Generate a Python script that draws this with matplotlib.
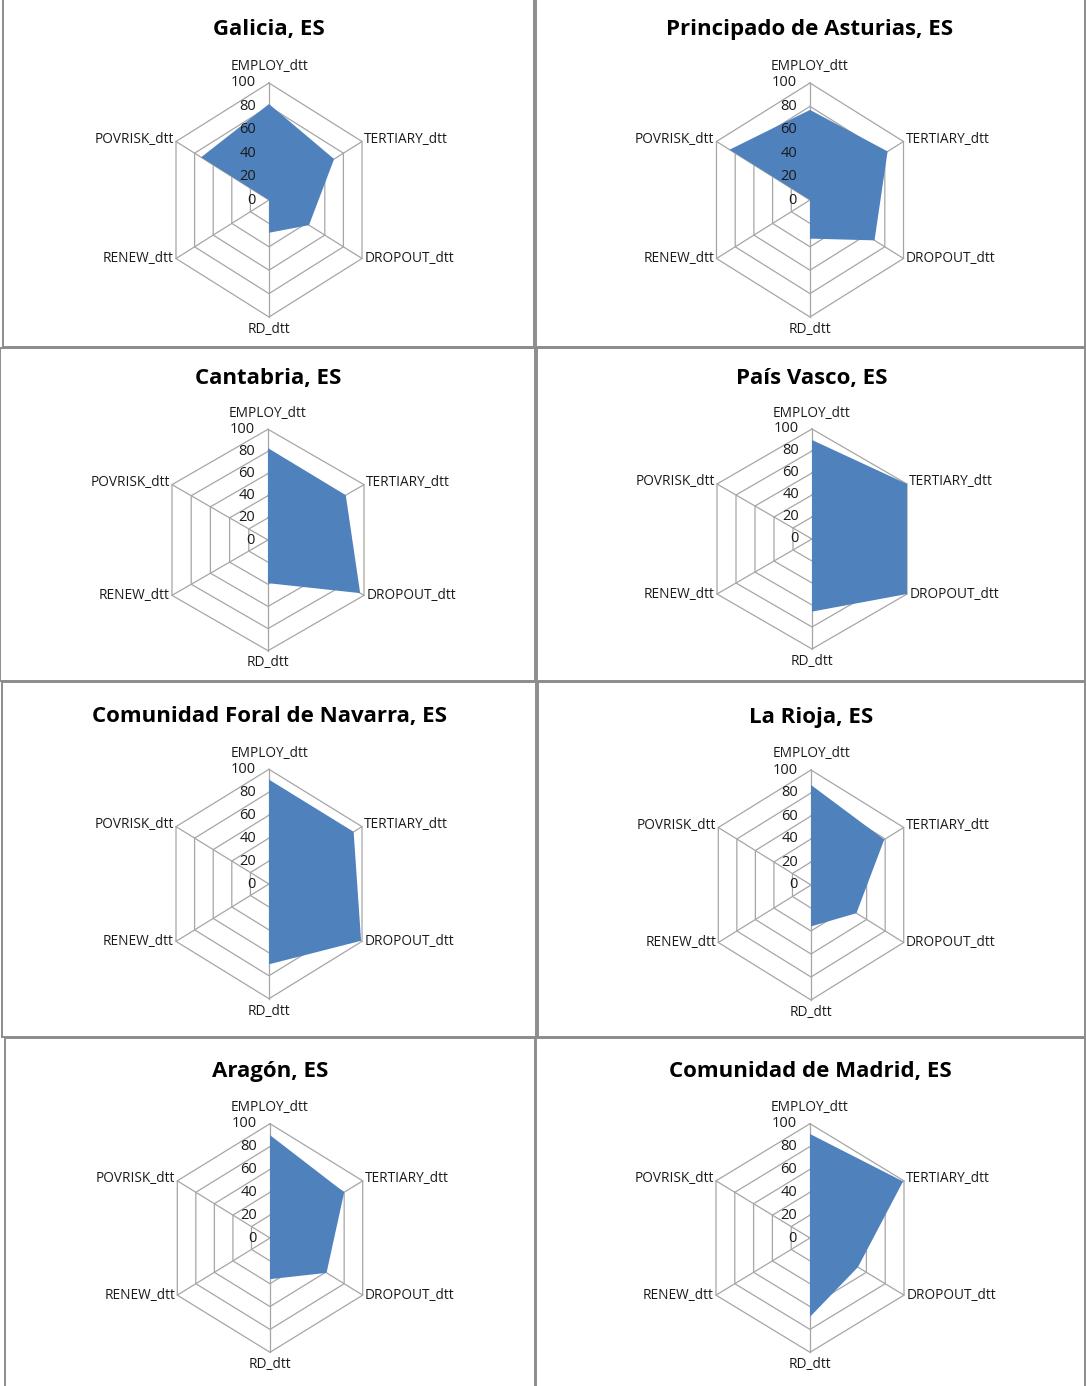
import numpy as np
import matplotlib
matplotlib.use("Agg")
import matplotlib.pyplot as plt

plt.rcParams['font.family'] = ['Open Sans', 'DejaVu Sans']

W, H = 1086, 1386

# axis names, clockwise from the top
axis_names = ['EMPLOY_dtt', 'TERTIARY_dtt', 'DROPOUT_dtt', 'RD_dtt', 'RENEW_dtt', 'POVRISK_dtt']
ring_ticks = [0, 20, 40, 60, 80, 100]

regions = ['Galicia, ES', 'Principado de Asturias, ES',
           'Cantabria, ES', 'País Vasco, ES',
           'Comunidad Foral de Navarra, ES', 'La Rioja, ES',
           'Aragón, ES', 'Comunidad de Madrid, ES']

galicia = [82, 70, 43, 28, 0, 73]
asturias = [77, 83, 69, 33, 0, 86]
cantabria = [83, 81, 96, 39, 0, 0]
pais_vasco = [90, 100, 100, 66, 0, 0]
navarra = [91, 91, 99, 70, 0, 0]
la_rioja = [87, 79, 49, 36, 0, 0]
aragon = [90, 80, 61, 36, 0, 0]
madrid = [91, 99, 51, 69, 0, 0]
values = [galicia, asturias, cantabria, pais_vasco, navarra, la_rioja, aragon, madrid]

# panel boxes in pixels (left, top, right, bottom), hexagon centre and size
boxes = [(3, -5, 534, 347), (536, -5, 1085, 347),
         (0, 348, 535, 681), (537, 348, 1085, 681),
         (2, 682, 536, 1037), (538, 682, 1085, 1037),
         (5, 1038, 535, 1395), (536, 1038, 1085, 1395)]
centres = [(269, 200), (810, 200),
           (268, 540), (812, 539),
           (269, 884), (811, 885),
           (270, 1238), (810, 1238)]
half_w = [93, 93.5, 96, 95, 93, 92.7, 92.7, 94]   # px from centre to side vertex
rad_y = [117, 117, 110.7, 110, 114.7, 115, 114.3, 114.3]  # px from centre to top vertex

FILL = '#4F81BD'
GRID = '#A6A6A6'
BORDER = '#8C8C8C'
TXT = '#1a1a1a'
LBL = 9.8

angles = np.deg2rad(90 - 60 * np.arange(6))
ca, sa = np.cos(angles), np.sin(angles)

fig = plt.figure(figsize=(W / 100, H / 100), dpi=100)

for k in range(8):
    L, T, R, B = boxes[k]
    cx, cy = centres[k]
    sx = half_w[k] / 86.6
    sy = rad_y[k] / 100.0
    ax = fig.add_axes([L / W, 1 - B / H, (R - L) / W, (B - T) / H])
    ax.set_xlim((L - cx) / sx, (R - cx) / sx)
    ax.set_ylim((cy - B) / sy, (cy - T) / sy)
    ax.set_xticks([])
    ax.set_yticks([])
    for s in ax.spines.values():
        s.set_color(BORDER)
        s.set_linewidth(1.4)

    # hexagon rings and spokes
    for r in ring_ticks[1:]:
        ax.plot(np.append(r * ca, r * ca[0]), np.append(r * sa, r * sa[0]),
                color=GRID, lw=0.9, zorder=1)
    for i in range(6):
        ax.plot([0, 100 * ca[i]], [0, 100 * sa[i]], color=GRID, lw=0.9, zorder=1)

    v = np.array(values[k], dtype=float)
    ax.fill(v * ca, v * sa, color=FILL, lw=0, zorder=2)

    # ring tick labels
    for r in ring_ticks:
        ax.text(-13 / sx, r, str(r), ha='right', va='center', fontsize=10.5,
                color=TXT, zorder=3)

    # axis labels
    ax.text(0, 114, axis_names[0], ha='center', va='center', fontsize=LBL, color=TXT)
    ax.text(88.6, 52, axis_names[1], ha='left', va='center', fontsize=LBL, color=TXT)
    ax.text(88.6, -50, axis_names[2], ha='left', va='center', fontsize=LBL, color=TXT)
    ax.text(0, -111, axis_names[3], ha='center', va='center', fontsize=LBL, color=TXT)
    ax.text(-88.6, -50, axis_names[4], ha='right', va='center', fontsize=LBL, color=TXT)
    ax.text(-88.6, 52, axis_names[5], ha='right', va='center', fontsize=LBL, color=TXT)

    ax.text(0, 146, regions[k], ha='center', va='center', fontsize=16,
            fontweight='bold', color='black')

fig.savefig('out.png', dpi=100)
